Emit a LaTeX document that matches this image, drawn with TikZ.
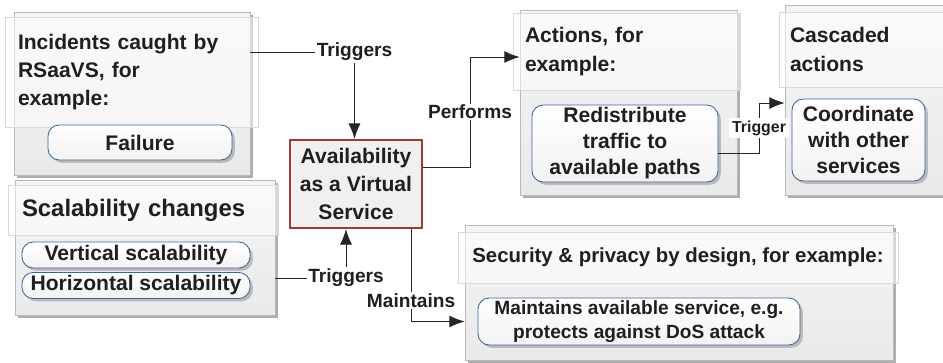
\documentclass[tikz,border=0pt]{standalone}
\usepackage{fontspec}
\setmainfont{Liberation Sans}
\usetikzlibrary{arrows.meta,shadows}

\definecolor{avsred}{HTML}{9B3B31}
\definecolor{pillblue}{HTML}{3B6497}

\begin{document}
\begin{tikzpicture}[
    >={Latex[length=11pt,width=8.5pt]},
    every node/.style={text=black!88},
    panel/.style={draw=gray!55, top color=gray!8, bottom color=gray!17,
        drop shadow={shadow xshift=2.2pt, shadow yshift=-2.2pt, fill=gray!80, opacity=.8}},
    head/.style={draw=gray!30, fill=white, fill opacity=.5, text opacity=1, align=left,
        font=\fontsize{15}{20}\selectfont\bfseries},
    pill/.style={draw=pillblue, line width=.6pt, rounded corners=8pt, top color=white,
        bottom color=gray!10, align=center, inner ysep=1pt, font=\fontsize{15}{18.5}\selectfont\bfseries,
        drop shadow={shadow xshift=2pt, shadow yshift=-2pt, fill=gray!70, opacity=.7}},
    lbl/.style={fill=white, inner sep=1pt, font=\fontsize{13.6}{16}\selectfont\bfseries},
    link/.style={line width=.7pt, draw=black!85},
]
    \useasboundingbox (0,0) rectangle (23.575,-9.05);
    \clip (0,0) rectangle (23.575,-9.05);

    %%%%%%%%%%%%%%%%%%%%%%%%%%%%%%%%%%%%
    % left: incidents and scalability
    %%%%%%%%%%%%%%%%%%%%%%%%%%%%%%%%%%%%
    \node[panel, minimum width=5.9cm, minimum height=4.075cm] (incbox) at (3.3,-2.3375) {};
    \node[head, text width=5.675cm, inner xsep=0.325cm, minimum height=2.75cm] (incHead) at (3.2875,-1.8) {Incidents caught by\\RSaaVS, for\\example:};
    \node[pill, minimum width=4.6cm, minimum height=0.875cm] (failPill) at (3.5,-3.5625) {Failure};

    \node[panel, minimum width=6.5cm, minimum height=3.375cm] (scalbox) at (3.625,-6.1875) {};
    \node[head, text width=6.05cm, inner xsep=0.35cm, minimum height=1.25cm, font=\fontsize{17}{20}\selectfont\bfseries] (scalHead) at (3.575,-5.25) {Scalability changes};
    \node[pill, minimum width=5.7cm, minimum height=0.65cm] (vertPill) at (3.4,-6.375) {Vertical scalability};
    \node[pill, minimum width=5.7cm, minimum height=0.65cm] (horiPill) at (3.4,-7.1375) {Horizontal scalability};

    %%%%%%%%%%%%%%%%%%%%%%%%%%%%%%%%%%%%
    % right: actions, cascaded, security
    %%%%%%%%%%%%%%%%%%%%%%%%%%%%%%%%%%%%
    \node[panel, minimum width=5.425cm, minimum height=4.625cm] (actbox) at (15.7125,-2.5625) {};
    \node[head, text width=5.075cm, inner xsep=0.3cm, minimum height=1.925cm] (actHead) at (15.6625,-1.2875) {Actions, for\\example:};
    \node[pill, minimum width=4.65cm, minimum height=1.925cm] (redPill) at (15.625,-3.5875) {Redistribute\\traffic to\\available paths};

    \node[panel, minimum width=4.25cm, minimum height=4.75cm] (casbox) at (21.75,-2.5) {};
    \node[head, text width=3.975cm, inner xsep=0.275cm, minimum height=1.875cm] (casHead) at (21.7375,-1.2375) {Cascaded\\actions};
    \node[pill, minimum width=3.325cm, minimum height=2.05cm] (coPill) at (21.4625,-3.5) {Coordinate\\with other\\services};

    \node[panel, minimum width=10.7cm, minimum height=3.375cm] (secbox) at (16.975,-7.3125) {};
    \node[head, align=center, minimum width=11cm, minimum height=1.275cm, font=\fontsize{14.5}{18}\selectfont\bfseries] (secHead) at (16.95,-6.4375) {Security \& privacy by design, for example:};
    \node[pill, minimum width=8.05cm, minimum height=1.175cm, font=\fontsize{13.6}{17}\selectfont\bfseries] (secPill) at (15.975,-8.0375) {Maintains available service, e.g.\\protects against DoS attack};

    % the virtual service in the middle
    \node[draw=avsred, line width=1.5pt, fill=gray!12, minimum width=3.3cm, minimum height=2.2cm, align=center, font=\fontsize{15}{20}\selectfont\bfseries] (avs) at (8.9,-4.6) {Availability\\as a Virtual\\Service};

    \node[lbl] (trigA) at (8.8625,-1.3) {Triggers};
    \node[lbl] (trigB) at (8.65,-6.95) {Triggers};

    \draw[link] (incbox.east |- trigA) -- (trigA);
    \draw[link,->] (trigA) -- (trigA |- avs.north);
    \draw[link] (scalbox.east |- trigB) -- (trigB);
    \draw[link,->] (trigB) -- (trigB |- avs.south);

    \coordinate (perfStart) at ([yshift=0.425cm]avs.east);
    \coordinate (perfTurn) at (11.75,-1.425);
    \draw[link,->] (perfStart) -- (perfStart -| perfTurn) -- node[lbl] (perfLbl) {Performs} (perfTurn) -- (perfTurn -| actbox.west);

    \coordinate (trigStart) at ([yshift=-0.2375cm]redPill.east);
    \coordinate (trigTurn) at (18.975,-2.575);
    \draw[link,->] (trigStart) -- (trigStart -| trigTurn) -- node[lbl, inner sep=2pt, font=\fontsize{11.3}{13}\selectfont\bfseries] (trigLbl) {Trigger} (trigTurn) -- (trigTurn -| casbox.west);

    \coordinate (mtStart) at ([xshift=-0.3cm]avs.south east);
    \draw[link,->] (mtStart) -- node[lbl, pos=.77] (mtLbl) {Maintains} (mtStart |- secPill) -- (secbox.west |- secPill);

\end{tikzpicture}
\end{document}
